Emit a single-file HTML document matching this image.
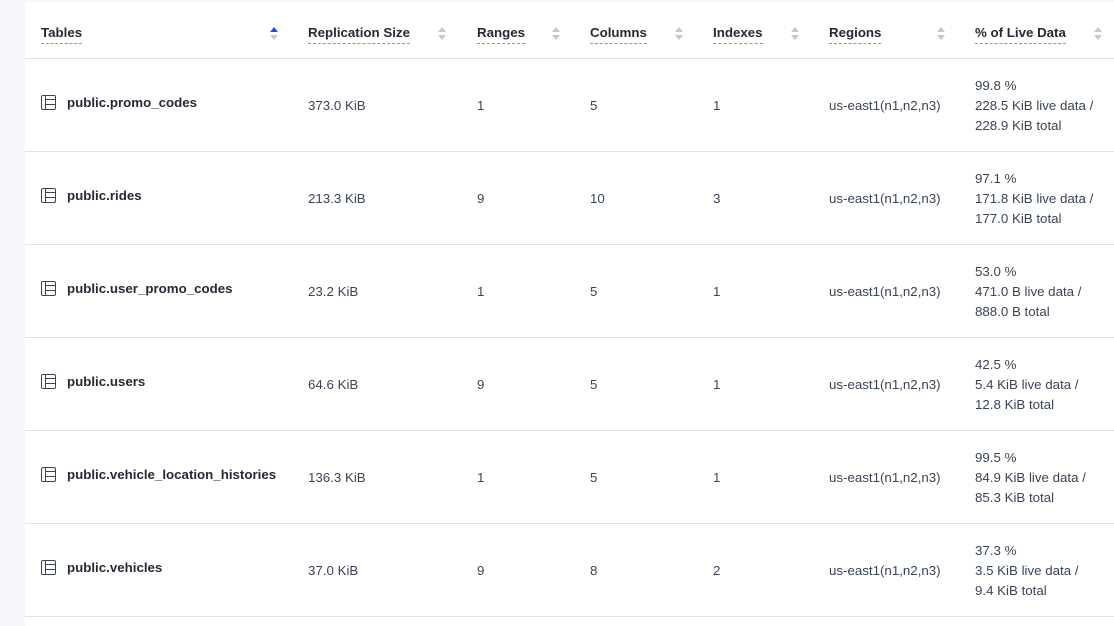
<!DOCTYPE html>
<html><head><style>
body{margin:0;width:1114px;height:626px;background:#fff;font-family:"Liberation Sans",sans-serif;position:relative;overflow:hidden;color:#394455}
.strip{position:absolute;left:0;top:0;width:25px;height:626px;background:#f6f7fb}
.top{position:absolute;left:0;top:0;width:1114px;height:2px;background:#f6f7fb}
.h{position:absolute;top:25px;font-size:13.3px;font-weight:bold;color:#242a35;padding-bottom:2px;border-bottom:1px dashed #8a95b0;line-height:16px}
.line{position:absolute;left:25px;width:1089px;height:1px;background:#dde1ea}
.c{position:absolute;font-size:13.3px;line-height:20px;color:#394455}
.n{position:absolute;font-size:13.3px;font-weight:bold;color:#242a35;line-height:16px}
.ic{position:absolute;left:41px;width:13px;height:13px;border:1.5px solid #394455;border-radius:2px}
.ic:before{content:"";position:absolute;left:3px;top:0;bottom:0;border-left:1.5px solid #394455}
.ic:after{content:"";position:absolute;left:4px;right:0;top:3px;height:4px;border-top:1.5px solid #394455;border-bottom:1.5px solid #394455}
</style></head><body>
<div class="strip"></div><div class="top"></div>
<div class="h" style="left:41px">Tables</div>
<div class="h" style="left:308px">Replication Size</div>
<div class="h" style="left:477px">Ranges</div>
<div class="h" style="left:590px">Columns</div>
<div class="h" style="left:713px">Indexes</div>
<div class="h" style="left:829px">Regions</div>
<div class="h" style="left:975px">% of Live Data</div>
<svg style="position:absolute;left:0;top:0" width="1114" height="60">
<g>
<path d="M270 32 L274 27 L278 32Z" fill="#1a4fe0"/><path d="M270 35 L274 40 L278 35Z" fill="#c0c7d6"/>
<path d="M438 32 L442 27 L446 32Z" fill="#c0c7d6"/><path d="M438 35 L442 40 L446 35Z" fill="#c0c7d6"/>
<path d="M552 32 L556 27 L560 32Z" fill="#c0c7d6"/><path d="M552 35 L556 40 L560 35Z" fill="#c0c7d6"/>
<path d="M675 32 L679 27 L683 32Z" fill="#c0c7d6"/><path d="M675 35 L679 40 L683 35Z" fill="#c0c7d6"/>
<path d="M791 32 L795 27 L799 32Z" fill="#c0c7d6"/><path d="M791 35 L795 40 L799 35Z" fill="#c0c7d6"/>
<path d="M937 32 L941 27 L945 32Z" fill="#c0c7d6"/><path d="M937 35 L941 40 L945 35Z" fill="#c0c7d6"/>
<path d="M1094 32 L1098 27 L1102 32Z" fill="#c0c7d6"/><path d="M1094 35 L1098 40 L1102 35Z" fill="#c0c7d6"/>
</g></svg>
<div class="line" style="top:58px"></div>

<div class="ic" style="top:95px"></div><div class="n" style="left:67px;top:95px">public.promo_codes</div>
<div class="c" style="left:308px;top:96px">373.0 KiB</div><div class="c" style="left:477px;top:96px">1</div><div class="c" style="left:590px;top:96px">5</div><div class="c" style="left:713px;top:96px">1</div><div class="c" style="left:829px;top:96px">us-east1(n1,n2,n3)</div>
<div class="c" style="left:975px;top:76px">99.8 %<br>228.5 KiB live data /<br>228.9 KiB total</div>
<div class="line" style="top:151px"></div>

<div class="ic" style="top:188px"></div><div class="n" style="left:67px;top:188px">public.rides</div>
<div class="c" style="left:308px;top:189px">213.3 KiB</div><div class="c" style="left:477px;top:189px">9</div><div class="c" style="left:590px;top:189px">10</div><div class="c" style="left:713px;top:189px">3</div><div class="c" style="left:829px;top:189px">us-east1(n1,n2,n3)</div>
<div class="c" style="left:975px;top:169px">97.1 %<br>171.8 KiB live data /<br>177.0 KiB total</div>
<div class="line" style="top:244px"></div>

<div class="ic" style="top:281px"></div><div class="n" style="left:67px;top:281px">public.user_promo_codes</div>
<div class="c" style="left:308px;top:282px">23.2 KiB</div><div class="c" style="left:477px;top:282px">1</div><div class="c" style="left:590px;top:282px">5</div><div class="c" style="left:713px;top:282px">1</div><div class="c" style="left:829px;top:282px">us-east1(n1,n2,n3)</div>
<div class="c" style="left:975px;top:262px">53.0 %<br>471.0 B live data /<br>888.0 B total</div>
<div class="line" style="top:337px"></div>

<div class="ic" style="top:374px"></div><div class="n" style="left:67px;top:374px">public.users</div>
<div class="c" style="left:308px;top:375px">64.6 KiB</div><div class="c" style="left:477px;top:375px">9</div><div class="c" style="left:590px;top:375px">5</div><div class="c" style="left:713px;top:375px">1</div><div class="c" style="left:829px;top:375px">us-east1(n1,n2,n3)</div>
<div class="c" style="left:975px;top:355px">42.5 %<br>5.4 KiB live data /<br>12.8 KiB total</div>
<div class="line" style="top:430px"></div>

<div class="ic" style="top:467px"></div><div class="n" style="left:67px;top:467px">public.vehicle_location_histories</div>
<div class="c" style="left:308px;top:468px">136.3 KiB</div><div class="c" style="left:477px;top:468px">1</div><div class="c" style="left:590px;top:468px">5</div><div class="c" style="left:713px;top:468px">1</div><div class="c" style="left:829px;top:468px">us-east1(n1,n2,n3)</div>
<div class="c" style="left:975px;top:448px">99.5 %<br>84.9 KiB live data /<br>85.3 KiB total</div>
<div class="line" style="top:523px"></div>

<div class="ic" style="top:560px"></div><div class="n" style="left:67px;top:560px">public.vehicles</div>
<div class="c" style="left:308px;top:561px">37.0 KiB</div><div class="c" style="left:477px;top:561px">9</div><div class="c" style="left:590px;top:561px">8</div><div class="c" style="left:713px;top:561px">2</div><div class="c" style="left:829px;top:561px">us-east1(n1,n2,n3)</div>
<div class="c" style="left:975px;top:541px">37.3 %<br>3.5 KiB live data /<br>9.4 KiB total</div>
<div class="line" style="top:616px"></div>
</body></html>
